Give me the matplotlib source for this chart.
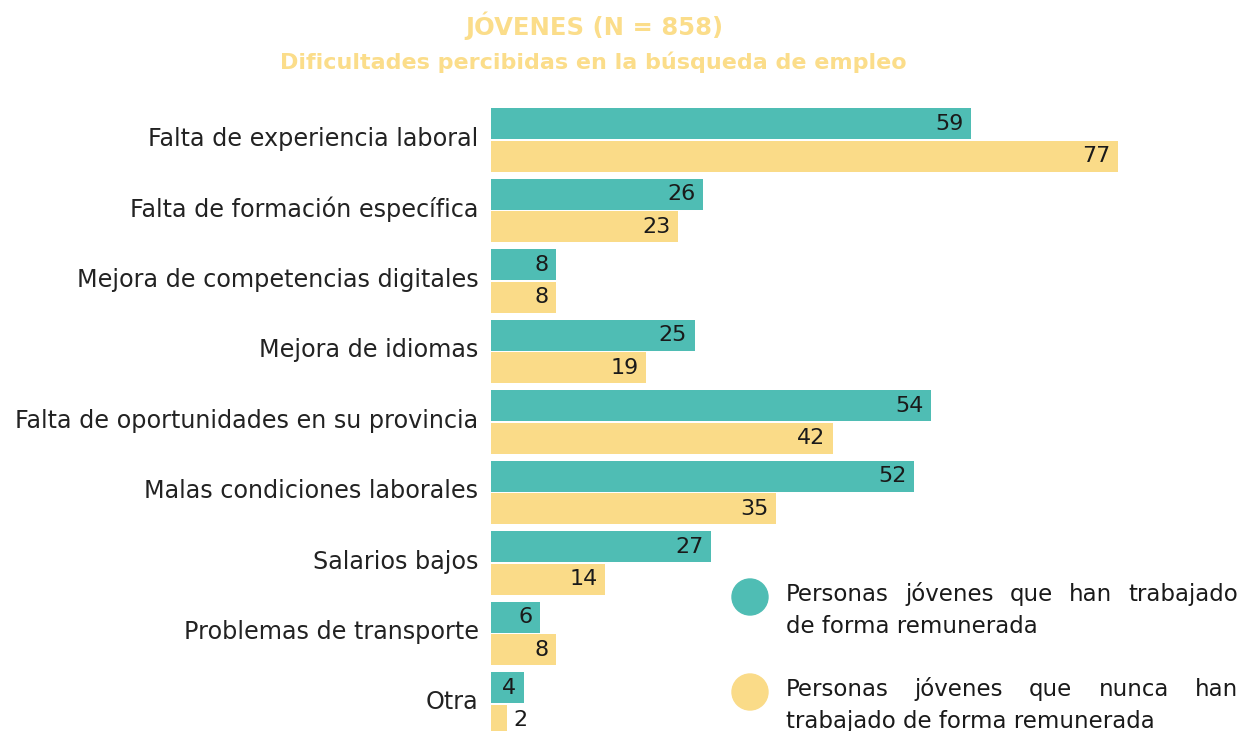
import matplotlib.pyplot as plt
import matplotlib.transforms as mtransforms
from matplotlib.patches import Circle

categorias = [
    "Falta de experiencia laboral",
    "Falta de formación específica",
    "Mejora de competencias digitales",
    "Mejora de idiomas",
    "Falta de oportunidades en su provincia",
    "Malas condiciones laborales",
    "Salarios bajos",
    "Problemas de transporte",
    "Otra",
]
han_trabajado = [59, 26, 8, 25, 54, 52, 27, 6, 4]
nunca_trabajado = [77, 23, 8, 19, 42, 35, 14, 8, 2]
leyenda = [
    ["Personas jóvenes que han trabajado", "de forma remunerada"],
    ["Personas jóvenes que nunca han", "trabajado de forma remunerada"],
]

TEAL = "#4FBDB4"
AMARILLO = "#FADB88"
plt.rcParams['font.family'] = ['DejaVu Sans']

W, H = 1242, 731
fig = plt.figure(figsize=(W / 100, H / 100), dpi=100)
ax = fig.add_axes([491 / W, 0, 1 - 491 / W, (H - 98) / H])

alto = 0.44
y = list(range(len(categorias)))
y_t = [i - alto / 2 - 0.012 for i in y]
y_a = [i + alto / 2 + 0.012 for i in y]
ax.barh(y_t, han_trabajado, height=alto, color=TEAL)
ax.barh(y_a, nunca_trabajado, height=alto, color=AMARILLO)

ax.set_xlim(0, (W - 491) / 8.14)
ax.set_ylim(8.383, -0.596)
ax.set_yticks(y)
ax.set_yticklabels(categorias, fontsize=17.2, color="#222222")
ax.tick_params(axis="y", length=0, pad=9)
ax.set_xticks([])
for s in ax.spines.values():
    s.set_visible(False)

# nudge category labels up a little
subir = mtransforms.ScaledTranslation(0, 4 / 100, fig.dpi_scale_trans)
for lab in ax.get_yticklabels():
    lab.set_transform(lab.get_transform() + subir)

for vals, ys in ((han_trabajado, y_t), (nunca_trabajado, y_a)):
    for v, yy in zip(vals, ys):
        if v >= 3:
            ax.text(v - 0.9, yy, str(v), ha="right", va="center", fontsize=16, color="#1a1a1a")
        else:
            ax.text(v + 0.8, yy, str(v), ha="left", va="center", fontsize=16, color="#1a1a1a")

fig.text(594 / W, 1 - 26 / H, "JÓVENES (N = 858)", ha="center", va="center",
         fontsize=17.5, fontweight="bold", color="#FBDD8A")
fig.text(593 / W, 1 - 62 / H, "Dificultades percibidas en la búsqueda de empleo", ha="center",
         va="center", fontsize=16, fontweight="bold", color="#FBDD8A")

# legend with justified text
renderer = fig.canvas.get_renderer()
x0, x1 = 786, 1238
for color, cy, lineas in ((TEAL, 597, leyenda[0]), (AMARILLO, 692, leyenda[1])):
    fig.patches.append(Circle((750, H - cy), 18, color=color, transform=None))
    for k, linea in enumerate(lineas):
        ly = cy + 4 + 32 * k
        palabras = linea.split()
        if k == len(lineas) - 1:
            fig.text(x0 / W, 1 - ly / H, linea, ha="left", va="baseline", fontsize=16.5,
                     color="#1a1a1a")
            continue
        objs = [fig.text(0, 1 - ly / H, p, ha="left", va="baseline", fontsize=16.5,
                         color="#1a1a1a") for p in palabras]
        anchos = [o.get_window_extent(renderer).width for o in objs]
        hueco = (x1 - x0 - sum(anchos)) / (len(objs) - 1)
        pos = x0
        for o, a in zip(objs, anchos):
            o.set_x(pos / W)
            pos += a + hueco

fig.savefig("out.png", dpi=100)
